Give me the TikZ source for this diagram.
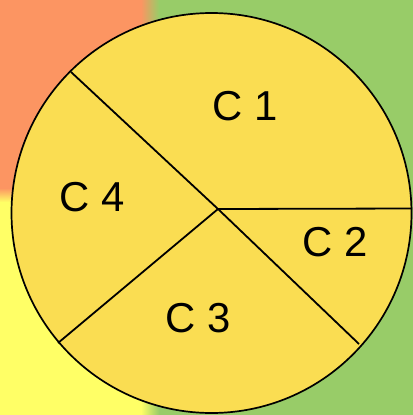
\documentclass[tikz,border=0pt]{standalone}
\usepackage{fontspec}
\setmainfont{Liberation Sans}
\definecolor{sal}{HTML}{FC9562}
\definecolor{grn}{HTML}{98CC68}
\definecolor{lyel}{HTML}{FFFF66}
\definecolor{pie}{HTML}{FADD52}
\tikzset{
  seg/.style={line width=1.8bp, draw=black},
  lab/.style={font=\fontsize{42}{42}\selectfont, inner sep=0pt, text=black},
  piebox/.style={circle, draw=black, fill=pie, line width=1.7bp, minimum size=400bp, inner sep=0pt, outer sep=0pt}
}
\begin{document}
\begin{tikzpicture}[x=1bp,y=-1bp]
\useasboundingbox (0,0) rectangle (413,415);
% background
\fill[sal] (0,0) rectangle (141,188);
\fill[lyel] (0,202) rectangle (141,415);
\shade[top color=sal, bottom color=lyel] (0,188) rectangle (141,202);
\fill[grn] (159,0) rectangle (413,415);
\shade[left color=sal, right color=grn] (141,0) rectangle (159,188);
\shade[left color=lyel, right color=grn] (141,202) rectangle (159,415);
\shade[left color=sal!50!lyel, right color=grn] (141,188) rectangle (159,202);
% pie
\node[piebox] (pie) at (211.5,213) {};
\coordinate (o) at (218,209);
\coordinate (ul) at (71,72);
\coordinate (rr) at (412,208.5);
\coordinate (ll) at (58,343);
\coordinate (lr) at (359,344);
\draw[seg] (ul) -- (o) -- (lr);
\draw[seg] (o) -- (rr);
\draw[seg] (o) -- (ll);
% labels
\node[lab] (c1) at (245,106) {C 1};
\node[lab] (c2) at (335,242) {C 2};
\node[lab] (c3) at (198.5,318) {C 3};
\node[lab] (c4) at (92.5,197) {C 4};
\end{tikzpicture}
\end{document}
